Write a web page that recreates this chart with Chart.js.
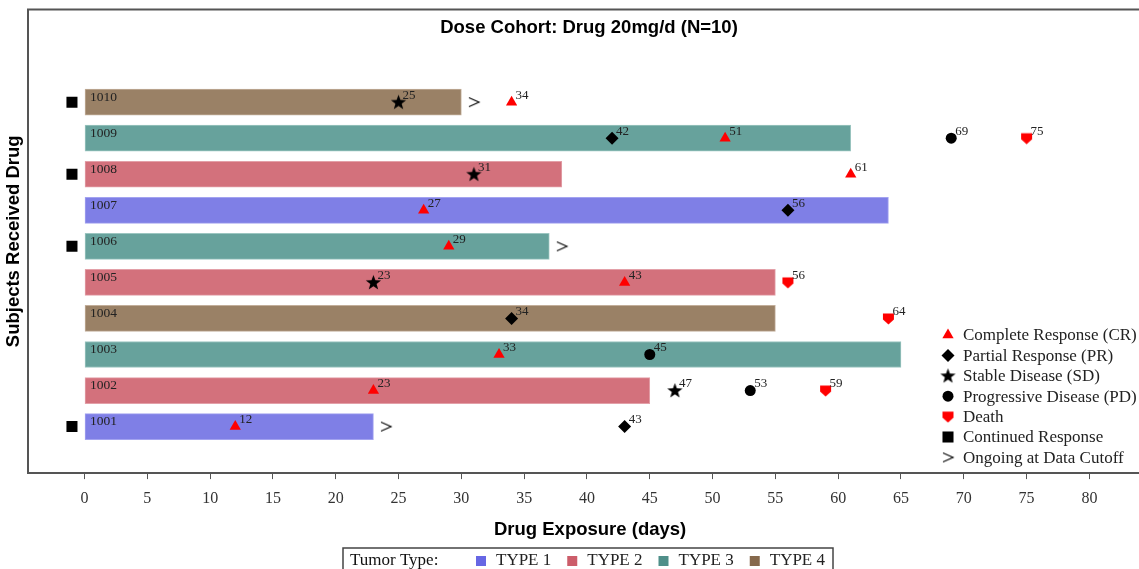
<!DOCTYPE html>
<html>
<head>
<meta charset="utf-8">
<script src="https://cdn.jsdelivr.net/npm/chart.js"></script>
<style>
html, body { margin: 0; padding: 0; background: #fff; overflow: hidden; }
</style>
</head>
<body>
<canvas id="swimmer" width="1160" height="569"></canvas>
<script>
// subjects, bottom row first
const subjects = ['1001', '1002', '1003', '1004', '1005', '1006', '1007', '1008', '1009', '1010'];
const exposureDays = [23, 45, 65, 55, 55, 37, 64, 38, 61, 30];
const tumorType = ['TYPE 1', 'TYPE 2', 'TYPE 3', 'TYPE 4', 'TYPE 2', 'TYPE 3', 'TYPE 1', 'TYPE 2', 'TYPE 3', 'TYPE 4'];
const tumorTypes = ['TYPE 1', 'TYPE 2', 'TYPE 3', 'TYPE 4'];

// response events
const crSubj = ['1001', '1002', '1003', '1005', '1006', '1007', '1008', '1009', '1010'];
const crDay = [12, 23, 33, 43, 29, 27, 61, 51, 34];
const prSubj = ['1001', '1004', '1007', '1009'];
const prDay = [43, 34, 56, 42];
const sdSubj = ['1002', '1005', '1008', '1010'];
const sdDay = [47, 23, 31, 25];
const pdSubj = ['1002', '1003', '1009'];
const pdDay = [53, 45, 69];
const deathSubj = ['1002', '1004', '1005', '1009'];
const deathDay = [59, 64, 56, 75];
const contRespSubj = ['1001', '1006', '1008', '1010'];
const contRespDay = -1;
const ongoingSubj = ['1001', '1006', '1010'];

const xTickValues = [0, 5, 10, 15, 20, 25, 30, 35, 40, 45, 50, 55, 60, 65, 70, 75, 80];

const barColors = { 'TYPE 1': '#7f7fe6', 'TYPE 2': '#d3717c', 'TYPE 3': '#67a29c', 'TYPE 4': '#9a8166' };
const barEdges = { 'TYPE 1': '#a3a3f0', 'TYPE 2': '#e3a0a8', 'TYPE 3': '#9cc6c1', 'TYPE 4': '#c2ae9a' };
const swatchColors = { 'TYPE 1': '#6767e4', 'TYPE 2': '#cc5d6a', 'TYPE 3': '#4f8f89', 'TYPE 4': '#86694c' };

const SERIF = '"Liberation Serif", "Times New Roman", serif';
const SANS = '"Liberation Sans", Arial, sans-serif';

function rowOf(s) { return subjects.indexOf(s) + 1; }

// custom marker glyphs
function makeStar() {
    const c = document.createElement('canvas');
    c.width = 17; c.height = 17;
    const g = c.getContext('2d');
    g.fillStyle = '#000';
    g.beginPath();
    for (let i = 0; i < 10; i++) {
        const r = i % 2 === 0 ? 8 : 3.3;
        const a = -Math.PI / 2 + i * Math.PI / 5;
        const px = 8.5 + r * Math.cos(a), py = 9 + r * Math.sin(a);
        if (i === 0) g.moveTo(px, py); else g.lineTo(px, py);
    }
    g.closePath();
    g.fill();
    return c;
}
function makeShield() {
    const c = document.createElement('canvas');
    c.width = 13; c.height = 13;
    const g = c.getContext('2d');
    g.fillStyle = '#ff0000';
    g.beginPath();
    g.moveTo(1, 1.5); g.lineTo(12, 1.5); g.lineTo(12, 7.5);
    g.lineTo(6.5, 12.5); g.lineTo(1, 7.5);
    g.closePath();
    g.fill();
    return c;
}
function makeChevron() {
    const c = document.createElement('canvas');
    c.width = 14; c.height = 14;
    const g = c.getContext('2d');
    g.strokeStyle = '#111';
    g.lineWidth = 1.3;
    g.beginPath();
    g.moveTo(2, 2.5); g.lineTo(12, 7); g.lineTo(2, 11.5);
    g.stroke();
    return c;
}
const starImg = makeStar();
const shieldImg = makeShield();
const chevronImg = makeChevron();

const markerSets = [
    { label: 'Complete Response (CR)', subj: crSubj, day: crDay, style: 'triangle', radius: 6.5, color: '#ff0000', numbers: true },
    { label: 'Partial Response (PR)', subj: prSubj, day: prDay, style: 'rectRot', radius: 6.5, color: '#000', numbers: true },
    { label: 'Stable Disease (SD)', subj: sdSubj, day: sdDay, style: starImg, radius: 7, color: '#000', numbers: true },
    { label: 'Progressive Disease (PD)', subj: pdSubj, day: pdDay, style: 'circle', radius: 5.5, color: '#000', numbers: true },
    { label: 'Death', subj: deathSubj, day: deathDay, style: shieldImg, radius: 6, color: '#ff0000', numbers: true },
    { label: 'Continued Response', subj: contRespSubj, day: contRespSubj.map(() => contRespDay), style: 'rect', radius: 7.8, color: '#000', numbers: false },
    { label: 'Ongoing at Data Cutoff', subj: ongoingSubj, day: ongoingSubj.map(s => exposureDays[subjects.indexOf(s)] + 1), style: chevronImg, radius: 6, color: '#000', numbers: false }
];

const datasets = markerSets.map(m => ({
    type: 'scatter',
    label: m.label,
    data: m.subj.map((s, i) => ({ x: m.day[i], y: rowOf(s) })),
    pointStyle: m.style,
    pointRadius: m.radius,
    pointBackgroundColor: m.color,
    pointBorderWidth: 0,
    showNumbers: m.numbers,
    order: 0
}));

datasets.push({
    type: 'bar',
    label: 'Exposure',
    indexAxis: 'y',
    data: subjects.map((s, i) => ({ x: exposureDays[i], y: i + 1 })),
    backgroundColor: tumorType.map(t => barColors[t]),
    borderColor: tumorType.map(t => barEdges[t]),
    borderWidth: 1,
    borderSkipped: false,
    barThickness: 26,
    order: 10
});

const decor = {
    id: 'decor',
    afterDatasetsDraw(chart) {
        const ctx = chart.ctx;
        ctx.save();
        // subject ids inside the bars
        const barMeta = chart.getDatasetMeta(chart.data.datasets.length - 1);
        ctx.font = '13.5px ' + SERIF;
        ctx.fillStyle = '#222';
        ctx.textAlign = 'left';
        ctx.textBaseline = 'middle';
        barMeta.data.forEach((el, i) => {
            ctx.fillText(subjects[i], el.base + 5, el.y - el.height / 2 + 8);
        });
        // day numbers next to markers
        ctx.font = '13px ' + SERIF;
        chart.data.datasets.forEach((ds, di) => {
            if (!ds.showNumbers) return;
            chart.getDatasetMeta(di).data.forEach((el, i) => {
                ctx.fillText(String(ds.data[i].x), el.x + 4, el.y - 7);
            });
        });
        ctx.restore();
    },
    afterDraw(chart) {
        const ctx = chart.ctx;
        const a = chart.chartArea;
        ctx.save();
        // frame
        ctx.strokeStyle = '#555';
        ctx.lineWidth = 2;
        ctx.beginPath();
        ctx.moveTo(chart.width, a.top);
        ctx.lineTo(a.left, a.top);
        ctx.lineTo(a.left, a.bottom);
        ctx.stroke();

        // title inside the frame
        ctx.fillStyle = '#000';
        ctx.font = 'bold 18.5px ' + SANS;
        ctx.textAlign = 'center';
        ctx.textBaseline = 'middle';
        ctx.fillText('Dose Cohort: Drug 20mg/d (N=10)', 589, a.top + 18);

        // y axis title
        ctx.save();
        ctx.translate(14, (a.top + a.bottom) / 2);
        ctx.rotate(-Math.PI / 2);
        ctx.fillText('Subjects Received Drug', 0, 0);
        ctx.restore();

        // marker legend
        ctx.font = '17px ' + SERIF;
        ctx.textAlign = 'left';
        markerSets.forEach((m, i) => {
            const y = 335 + i * 20.4;
            ctx.fillStyle = m.color;
            Chart.helpers.drawPoint(ctx, { pointStyle: m.style, radius: m.radius, rotation: 0, borderWidth: 0 }, 948, y);
            ctx.fillStyle = '#222';
            ctx.fillText(m.label, 963, y + 1);
        });

        // tumor type legend
        ctx.strokeStyle = '#444';
        ctx.lineWidth = 1.5;
        ctx.strokeRect(343, 548, 490, 30);
        ctx.fillStyle = '#111';
        ctx.font = '17px ' + SERIF;
        ctx.fillText('Tumor Type:', 350, 561);
        let x = 476;
        tumorTypes.forEach(t => {
            ctx.fillStyle = swatchColors[t];
            ctx.fillRect(x, 556, 10, 10);
            ctx.fillStyle = '#222';
            ctx.fillText(t, x + 20, 561);
            x += 20 + ctx.measureText(t).width + 16;
        });
        ctx.restore();
    }
};

new Chart(document.getElementById('swimmer'), {
    data: { datasets: datasets },
    options: {
        responsive: false,
        animation: false,
        layout: { padding: { left: 28, top: 9.5, right: 5, bottom: 27.5 } },
        plugins: {
            legend: { display: false },
            tooltip: { enabled: false }
        },
        scales: {
            x: {
                type: 'linear',
                min: -4.5,
                max: 85,
                offset: false,
                afterBuildTicks: scale => { scale.ticks = xTickValues.map(v => ({ value: v })); },
                ticks: { font: { family: SERIF, size: 16 }, color: '#333', padding: 10.5 },
                grid: { drawOnChartArea: false, drawTicks: true, tickLength: 6, color: '#555', lineWidth: 1 },
                border: { display: true, color: '#555', width: 2 },
                title: {
                    display: true,
                    text: 'Drug Exposure (days)',
                    font: { family: SANS, size: 18.5, weight: 'bold' },
                    color: '#000',
                    padding: { top: 0, bottom: 0 }
                }
            },
            y: {
                type: 'linear',
                min: -0.29,
                max: 12.57,
                offset: false,
                display: false
            }
        }
    },
    plugins: [decor]
});
</script>
</body>
</html>
